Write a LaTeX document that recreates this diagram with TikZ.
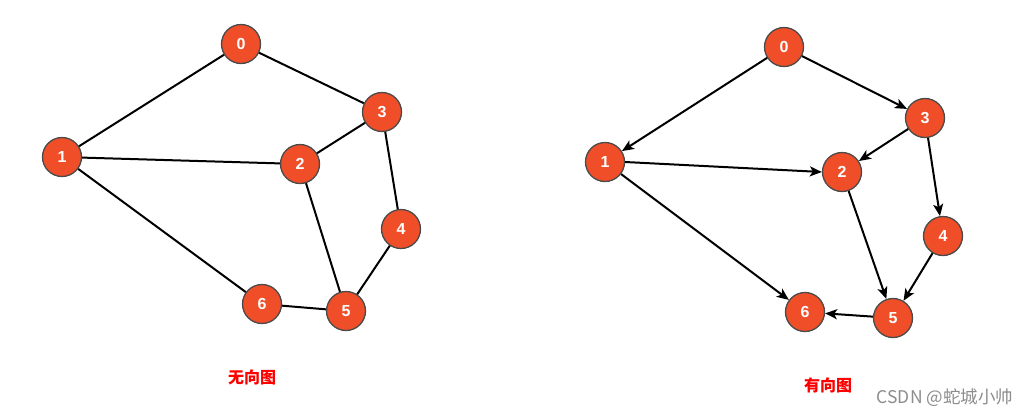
\documentclass[tikz,border=0pt]{standalone}
\usepackage{fontspec}
\setmainfont{Liberation Sans}
\newfontfamily\cjk{Noto Sans CJK SC}
\usetikzlibrary{arrows.meta}
\definecolor{vfill}{HTML}{F04E28}
\definecolor{vline}{HTML}{4A4A4A}
\tikzset{
  vertex/.style={circle,fill=vfill,draw=vline,line width=1.3pt,minimum size=39pt,inner sep=0pt,text=white,font=\bfseries\fontsize{16}{16}\selectfont},
  edge/.style={line width=2pt,black},
  arc/.style={edge,-{Stealth[length=12pt,width=10pt,inset=3pt]}},
  title/.style={text=red,font=\cjk\bfseries\fontsize{16}{16}\selectfont}
}
\begin{document}
\begin{tikzpicture}[x=1pt,y=-1pt]
\useasboundingbox (0,0) rectangle (1026,416);
% undirected graph
\node[vertex] (l0) at (241,44) {0};
\node[vertex] (l1) at (62,157) {1};
\node[vertex] (l2) at (300,164) {2};
\node[vertex] (l3) at (382,112) {3};
\node[vertex] (l4) at (401,229) {4};
\node[vertex] (l5) at (346,311) {5};
\node[vertex] (l6) at (262,304) {6};
\foreach \a/\b in {0/1,0/3,1/2,1/6,3/2,3/4,2/5,4/5,5/6}
  \draw[edge] (l\a) -- (l\b);
\node[title] (ltitle) at (252,377) {无向图};
% directed graph
\node[vertex] (r0) at (784,47) {0};
\node[vertex] (r1) at (605,162) {1};
\node[vertex] (r2) at (842,172) {2};
\node[vertex] (r3) at (925,118) {3};
\node[vertex] (r4) at (943,236) {4};
\node[vertex] (r5) at (893,318) {5};
\node[vertex] (r6) at (805,312) {6};
\foreach \a/\b in {0/1,0/3,1/6,3/2,3/4,2/5,4/5,5/6}
  \draw[arc] (r\a) -- (r\b);
\draw[arc] (r1.east) -- (r2.west);
\node[title] (rtitle) at (828,385) {有向图};
\node[text=black!45,font=\cjk\fontsize{17.5}{17.5}\selectfont] (mark) at (945,398) {CSDN @蛇城小帅};
\end{tikzpicture}
\end{document}
